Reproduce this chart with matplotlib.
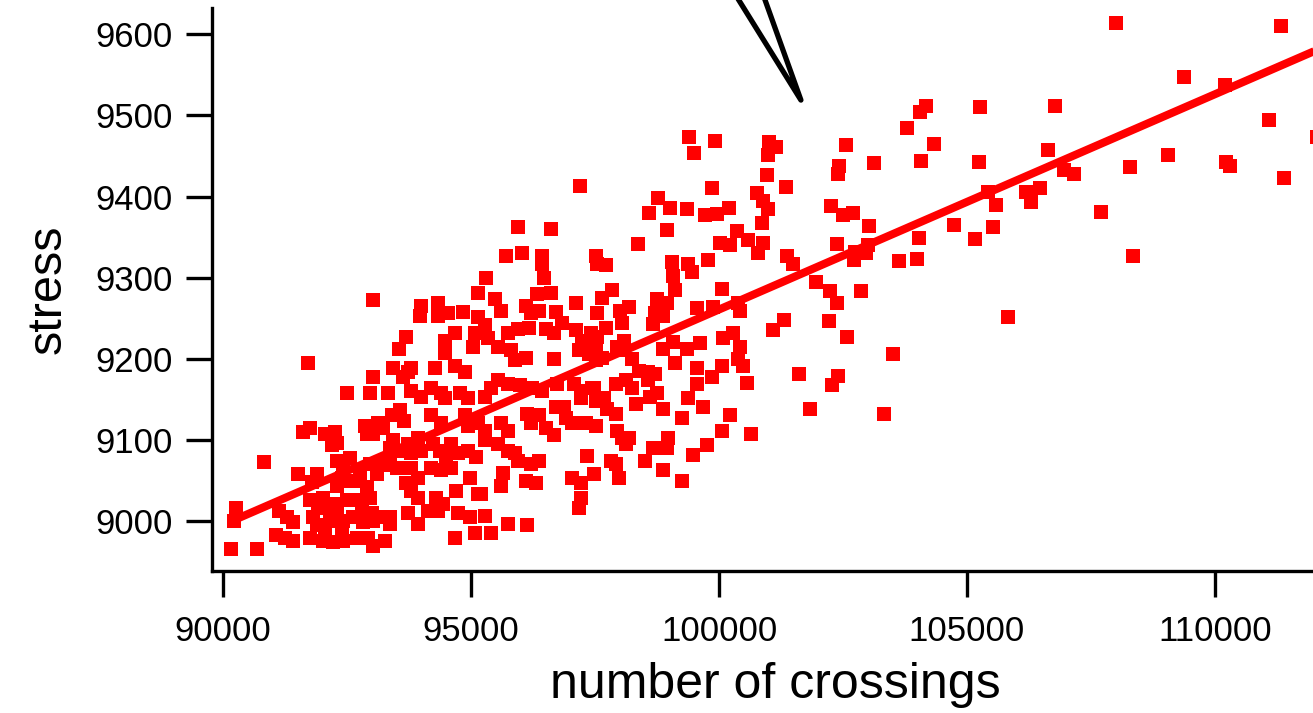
import numpy as np
import matplotlib
matplotlib.use("Agg")
import matplotlib.pyplot as plt

plt.rcParams['font.family'] = ['Liberation Sans', 'DejaVu Sans']

# number of crossings vs stress
crossings = [
    108013, 111326, 109374, 110208, 106772, 111082, 112058, 106630, 106955, 107158,
    108277, 109049, 110228, 110310, 111387, 107708, 108338,
    104170, 104048, 105268, 103784, 102564, 104333, 102422, 102401, 103133, 104068,
    105247, 102259, 102503, 102706, 103031, 105430, 105593, 106183, 106284, 106467,
    104740, 105532, 105166, 104028, 102381, 101487, 103011, 102747, 102971, 102726,
    103621, 103987, 101954, 102239, 102381, 102869, 105817, 102218, 102584, 103499,
    101608, 102401, 102279, 101832, 103336,
    99393, 99921, 100999, 101141, 97197, 95957, 96607,
    99494, 100978, 100958, 101344, 99860, 98762, 99006, 98579, 99352, 99718,
    99962, 100206, 100775, 100897, 100978, 100877, 98945, 98376, 100023, 100226,
    100368, 100592, 100897, 100795, 101364, 97725, 97542, 99047, 99372, 99453,
    99779, 99067, 100063, 97847, 97644, 98742, 99108, 98945, 98010, 98193,
    98051, 97725, 98701, 98864, 98660, 99555, 99880, 100389, 100429, 101080,
    101303, 99067, 99352, 99616, 98864, 100084, 100287, 100429, 100389, 100490,
    100063, 99860, 100572, 99555, 99555, 99108, 98701, 98559, 99372, 99677,
    98742, 98600, 98335, 98864, 99250, 100226, 100063, 100653, 98966, 98945,
    98660, 99758, 99474, 98498, 98864, 99250, 97929, 97990, 97827, 98051,
    98193, 98132, 97949, 97522, 97481, 97685, 97746, 97929, 97929, 98132,
    98254, 98254, 98396, 98559, 98051, 97949, 98091, 97522, 97644, 97542,
    95713, 96038, 96424, 96424, 96465, 97522, 95306, 95143, 95489, 95611,
    96322, 96607, 93985, 94330, 93964, 94330, 94533, 94838, 95143, 95286,
    96099, 96201, 96363, 96709, 96831, 97116, 97543, 93680, 93558, 94676,
    94473, 94473, 95083, 95042, 95347, 95550, 95754, 95957, 96160, 96506,
    96669, 95815, 96099, 95896, 96669, 97116, 97238, 97421, 97177, 97380,
    97522, 93781, 94269, 94676, 94879, 93619, 93781, 93985, 94188, 94391,
    94473, 94777, 94940, 95286, 95408, 95550, 95754, 95997, 96221, 96424,
    96729, 97075, 97217, 97441, 97217, 97522, 93578, 93659, 94188, 94391,
    94879, 94940, 95143, 95286, 95611, 95754, 96119, 96363, 96201, 96709,
    96872, 96912, 96506, 96669, 97035, 97319, 93924, 93985, 93721, 93781,
    93517, 94229, 94371, 94594, 94737, 94493, 94940, 95103, 95286, 95550,
    95754, 95896, 95957, 96201, 96363, 93781, 93924, 94188, 94391, 94594,
    94981, 95205, 95652, 95611, 96099, 96302, 97035, 97217, 97217, 97177,
    97340, 97482, 93680, 93781, 93924, 94290, 94432, 94330, 94127, 94696,
    95143, 93721, 93924, 94737, 94981, 95286, 95754, 96119, 94676, 95083,
    95408,
    93029, 91708, 93436, 93721, 92501, 93029, 92968, 93334, 91606, 91748,
    92053, 92257, 92297, 92196, 92867, 93029, 92907, 93416, 93436, 93375,
    93131, 93232, 90834, 91504, 91891, 91789, 92297, 92562, 92419, 92399,
    92297, 92562, 92765, 92968, 93111, 93232, 93375, 93517, 92765, 92907,
    90264, 90224, 91138, 91281, 91403, 92013, 91911, 91748, 92094, 92297,
    92501, 92724, 92968, 92806, 93009, 91809, 91891, 92053, 92155, 92297,
    92419, 92399, 92623, 92826, 93029, 93232, 93375, 93375, 91077, 91240,
    91403, 91748, 92013, 92216, 92419, 92704, 92928, 93029, 93273, 90163,
    90692,
]
stress = [
    9614, 9611, 9547, 9538, 9512, 9494, 9473, 9458, 9433, 9428,
    9437, 9451, 9443, 9438, 9423, 9381, 9326,
    9512, 9504, 9511, 9485, 9464, 9465, 9438, 9428, 9441, 9444,
    9442, 9388, 9377, 9380, 9363, 9405, 9389, 9405, 9393, 9410,
    9365, 9362, 9348, 9349, 9341, 9317, 9340, 9331, 9330, 9321,
    9320, 9323, 9295, 9283, 9268, 9283, 9251, 9246, 9226, 9206,
    9181, 9178, 9167, 9138, 9131,
    9474, 9469, 9467, 9461, 9413, 9362, 9360,
    9454, 9451, 9426, 9412, 9410, 9398, 9386, 9380, 9384, 9377,
    9379, 9386, 9404, 9395, 9385, 9367, 9359, 9341, 9343, 9340,
    9358, 9346, 9342, 9330, 9327, 9315, 9317, 9319, 9317, 9307,
    9321, 9302, 9286, 9284, 9275, 9274, 9284, 9268, 9259, 9263,
    9244, 9238, 9256, 9253, 9243, 9262, 9263, 9269, 9259, 9235,
    9247, 9220, 9212, 9219, 9212, 9225, 9232, 9214, 9200, 9191,
    9191, 9177, 9170, 9188, 9169, 9194, 9181, 9173, 9151, 9140,
    9157, 9152, 9144, 9138, 9127, 9130, 9111, 9107, 9102, 9089,
    9090, 9093, 9081, 9074, 9062, 9049, 9070, 9052, 9074, 9102,
    9102, 9095, 9111, 9117, 9163, 9151, 9138, 9132, 9169, 9173,
    9164, 9200, 9185, 9183, 9210, 9214, 9222, 9214, 9201, 9226,
    9327, 9330, 9327, 9317, 9300, 9327, 9300, 9281, 9274, 9259,
    9280, 9281, 9265, 9269, 9253, 9253, 9256, 9257, 9251, 9241,
    9265, 9256, 9259, 9257, 9244, 9268, 9256, 9226, 9212, 9232,
    9222, 9207, 9231, 9214, 9225, 9214, 9231, 9237, 9238, 9237,
    9231, 9210, 9201, 9198, 9200, 9235, 9222, 9231, 9210, 9206,
    9198, 9188, 9188, 9191, 9183, 9177, 9160, 9152, 9164, 9157,
    9151, 9158, 9151, 9152, 9164, 9173, 9169, 9167, 9164, 9160,
    9169, 9169, 9160, 9164, 9151, 9148, 9136, 9123, 9130, 9120,
    9130, 9117, 9120, 9111, 9120, 9111, 9132, 9130, 9121, 9140,
    9140, 9127, 9114, 9105, 9120, 9120, 9102, 9086, 9095, 9083,
    9086, 9095, 9086, 9095, 9083, 9078, 9086, 9078, 9099, 9095,
    9086, 9083, 9074, 9070, 9074, 9065, 9053, 9065, 9062, 9065,
    9053, 9033, 9059, 9043, 9049, 9046, 9053, 9046, 9028, 9015,
    9080, 9058, 9046, 9037, 9028, 9028, 9021, 9012, 9012, 9037,
    9033, 9009, 8996, 9009, 9004, 9006, 8996, 8994, 8979, 8984,
    8985,
    9272, 9195, 9188, 9183, 9158, 9177, 9157, 9158, 9109, 9114,
    9107, 9109, 9096, 9093, 9117, 9107, 9107, 9130, 9099, 9089,
    9121, 9114, 9072, 9058, 9058, 9047, 9074, 9077, 9065, 9053,
    9043, 9049, 9062, 9070, 9058, 9068, 9078, 9065, 9049, 9041,
    9015, 9000, 9012, 9004, 8998, 9028, 9016, 9025, 9015, 9021,
    9025, 9025, 9028, 9015, 9009, 9004, 8994, 8988, 9000, 9004,
    9000, 8988, 9004, 8998, 9000, 9004, 9004, 8996, 8982, 8978,
    8975, 8979, 8975, 8973, 8975, 8979, 8978, 8969, 8975, 8965,
    8965,
]

# fitted line ends
fit_x = [90200, 113000]
fit_y = [9000, 9606]

# callout pointer above the plot
callout_x = [100221, 101652, 100826]
callout_y = [9660, 9519, 9660]

xticks = [90000, 95000, 100000, 105000, 110000]
yticks = [9000, 9100, 9200, 9300, 9400, 9500, 9600]

fig = plt.figure(figsize=(13.13, 7.13), dpi=100)
ax = fig.add_axes([212 / 1313, 142 / 713, 1 - 212 / 1313, (571 - 8) / 713])

ax.scatter(crossings, stress, marker='s', s=92, color='#ff0000', linewidths=0, zorder=2)
ax.plot(fit_x, fit_y, color='#ff0000', lw=5.8, solid_capstyle='butt', zorder=3)
ax.plot(callout_x, callout_y, color='black', lw=3.8, solid_capstyle='round',
        solid_joinstyle='round', clip_on=False, zorder=4)

ax.set_xlim(89778, 111976)
ax.set_ylim(8937.7, 9632.7)
ax.set_xticks(xticks)
ax.set_yticks(yticks)
ax.set_xticklabels([str(v) for v in xticks])
ax.set_yticklabels([str(v) for v in yticks])

for side in ['top', 'right']:
    ax.spines[side].set_visible(False)
for side in ['left', 'bottom']:
    ax.spines[side].set_linewidth(2.4)

ax.tick_params(axis='both', direction='out', length=19, width=2.4, labelsize=25, color='black')
ax.tick_params(axis='x', pad=13)
ax.tick_params(axis='y', pad=9)

ax.set_xlabel('number of crossings', fontsize=36)
ax.xaxis.set_label_coords(0.512, -0.162)
ax.set_ylabel('stress', fontsize=35, labelpad=18)

fig.savefig('out.png', dpi=100)
